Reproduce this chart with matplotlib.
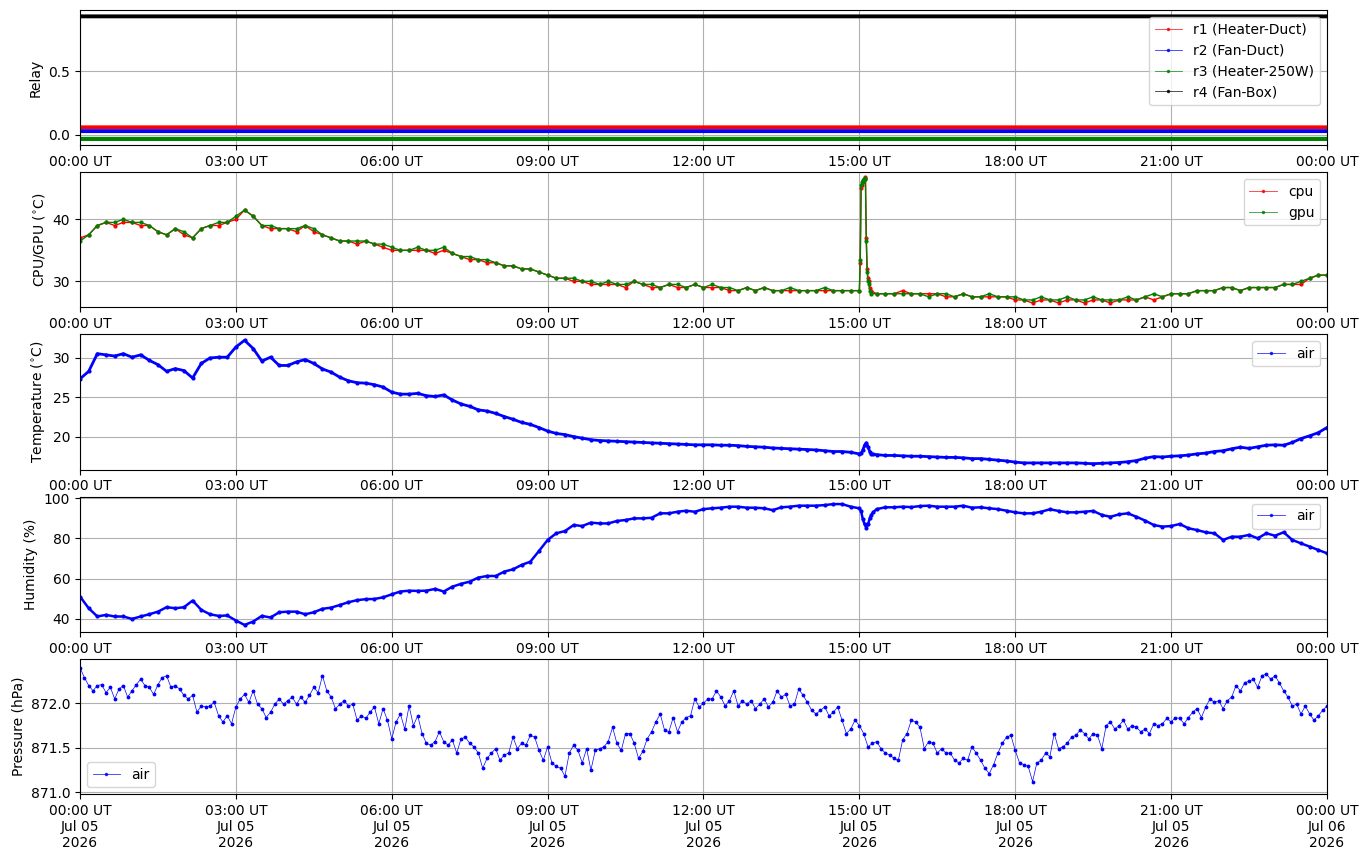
import numpy as np
import pandas as pd
import matplotlib
matplotlib.use('Agg')
import matplotlib.pyplot as plt
import matplotlib.dates as mdates

# --- time base ---
day_start = pd.Timestamp('2026-07-05 00:00')
day_end = pd.Timestamp('2026-07-06 00:00')
t1 = pd.date_range(day_start, day_end, freq='1min')
t5 = pd.date_range(day_start, day_end, freq='5min')
t10 = pd.date_range(day_start, day_end, freq='10min')

# --- relay states (0 = off, 1 = on) and display offsets ---
relay_names = ['r1 (Heater-Duct)', 'r2 (Fan-Duct)', 'r3 (Heater-250W)', 'r4 (Fan-Box)']
relay_state = [0, 0, 0, 1]
relay_offset = [0.06, 0.03, -0.03, -0.07]
relay_colors = ['red', 'blue', 'green', 'black']

# --- cpu / gpu temperature, every 10 minutes ---
cpu = [37.0, 37.5, 39.0, 39.5, 39.0, 39.5, 39.5, 39.0, 39.0, 38.0,
       37.5, 38.5, 37.5, 37.0, 38.5, 39.0, 39.0, 39.5, 40.0, 41.5,
       40.5, 39.0, 38.5, 38.5, 38.5, 38.0, 39.0, 38.0, 37.5, 37.0,
       36.5, 36.5, 36.0, 36.5, 36.0, 35.5, 35.0, 35.0, 35.0, 35.0,
       35.0, 34.5, 35.0, 34.5, 34.0, 33.5, 33.5, 33.0, 33.0, 32.5,
       32.5, 32.0, 32.0, 31.5, 31.0, 30.5, 30.5, 30.0, 30.0, 29.5,
       29.5, 29.5, 29.5, 29.0, 30.0, 29.5, 29.0, 29.0, 29.5, 29.0,
       29.0, 29.5, 29.0, 29.0, 29.0, 28.5, 28.5, 29.0, 28.5, 29.0,
       28.5, 28.5, 28.5, 28.5, 28.5, 28.5, 28.5, 28.5, 28.5, 28.5,
       28.5, 30.5, 28.0, 28.0, 28.0, 28.5, 28.0, 28.0, 28.0, 28.0,
       27.5, 27.5, 28.0, 27.5, 27.5, 27.5, 27.5, 27.5, 27.0, 27.0,
       26.5, 27.0, 27.0, 26.5, 27.0, 27.0, 26.5, 27.0, 27.0, 26.5,
       27.0, 27.0, 27.0, 27.5, 27.0, 27.5, 28.0, 28.0, 28.0, 28.5,
       28.5, 28.5, 29.0, 29.0, 28.5, 29.0, 29.0, 29.0, 29.0, 29.5,
       29.5, 29.5, 30.5, 31.0, 31.0]
gpu = [36.5, 37.5, 39.0, 39.5, 39.5, 40.0, 39.5, 39.5, 39.0, 38.0,
       37.5, 38.5, 38.0, 37.0, 38.5, 39.0, 39.5, 39.5, 40.5, 41.5,
       40.5, 39.0, 39.0, 38.5, 38.5, 38.5, 39.0, 38.5, 37.5, 37.0,
       36.5, 36.5, 36.5, 36.5, 36.0, 36.0, 35.5, 35.0, 35.0, 35.5,
       35.0, 35.0, 35.5, 34.5, 34.0, 34.0, 33.5, 33.5, 33.0, 32.5,
       32.5, 32.0, 32.0, 31.5, 31.0, 30.5, 30.5, 30.5, 30.0, 30.0,
       29.5, 30.0, 29.5, 29.5, 30.0, 29.5, 29.5, 29.0, 29.5, 29.5,
       29.0, 29.5, 29.0, 29.5, 29.0, 29.0, 28.5, 29.0, 28.5, 29.0,
       28.5, 28.5, 29.0, 28.5, 28.5, 28.5, 29.0, 28.5, 28.5, 28.5,
       28.5, 30.0, 28.0, 28.0, 28.0, 28.0, 28.0, 28.0, 27.5, 28.0,
       28.0, 27.5, 28.0, 27.5, 27.5, 28.0, 27.5, 27.5, 27.5, 27.0,
       27.0, 27.5, 27.0, 27.0, 27.5, 27.0, 27.0, 27.5, 27.0, 27.0,
       27.0, 27.5, 27.0, 27.5, 28.0, 27.5, 28.0, 28.0, 28.0, 28.5,
       28.5, 28.5, 29.0, 29.0, 28.5, 29.0, 29.0, 29.0, 29.0, 29.5,
       29.5, 30.0, 30.5, 31.0, 31.0]

# short heating event around 15:00 UT, sampled every minute
cpu_event_times = ['15:01', '15:02', '15:03', '15:04', '15:05', '15:06', '15:07',
                   '15:08', '15:09', '15:10', '15:11', '15:12', '15:13']
cpu_event = [33.0, 45.0, 45.5, 46.0, 46.3, 46.5, 46.8, 37.0, 32.0, 30.5, 30.0, 29.0, 28.5]
gpu_event = [33.5, 45.5, 46.0, 46.3, 46.5, 46.7, 46.5, 36.5, 31.5, 30.0, 29.5, 28.5, 28.0]

# --- air temperature, every 10 minutes ---
air_temp = [27.35, 28.3, 30.55, 30.4, 30.25, 30.55, 30.1, 30.4, 29.7, 29.15,
            28.3, 28.65, 28.4, 27.45, 29.3, 30.0, 30.1, 30.1, 31.4, 32.25,
            31.2, 29.6, 30.1, 29.05, 29.05, 29.5, 29.8, 29.3, 28.6, 28.2,
            27.55, 27.1, 26.85, 26.8, 26.6, 26.3, 25.65, 25.4, 25.4, 25.5,
            25.2, 25.1, 25.3, 24.65, 24.15, 23.85, 23.4, 23.25, 22.95, 22.55,
            22.2, 21.8, 21.55, 21.15, 20.7, 20.4, 20.25, 20.0, 19.8, 19.6,
            19.5, 19.45, 19.4, 19.35, 19.3, 19.25, 19.2, 19.15, 19.1, 19.05,
            19.0, 18.95, 18.95, 18.95, 18.9, 18.9, 18.85, 18.75, 18.7, 18.65,
            18.55, 18.5, 18.45, 18.4, 18.35, 18.3, 18.2, 18.1, 18.1, 18.0,
            17.8, 18.6, 17.7, 17.6, 17.6, 17.55, 17.5, 17.5, 17.45, 17.4,
            17.35, 17.35, 17.3, 17.2, 17.2, 17.1, 17.0, 16.9, 16.75, 16.65,
            16.65, 16.65, 16.65, 16.65, 16.65, 16.65, 16.6, 16.55, 16.6, 16.65,
            16.7, 16.8, 16.95, 17.25, 17.45, 17.4, 17.5, 17.55, 17.65, 17.8,
            17.9, 18.1, 18.2, 18.45, 18.65, 18.5, 18.7, 18.9, 18.95, 18.9,
            19.25, 19.75, 20.1, 20.5, 21.15]
air_event_times = ['15:02', '15:04', '15:06', '15:08', '15:10', '15:12', '15:14', '15:16']
air_temp_event = [17.85, 18.3, 18.9, 19.2, 18.7, 18.1, 17.8, 17.75]

# --- humidity, every 10 minutes ---
humidity = [51.1, 45.3, 41.2, 42.0, 41.2, 41.2, 40.0, 41.2, 42.3, 43.6,
            45.8, 45.3, 45.8, 49.1, 44.5, 42.3, 41.5, 41.7, 39.2, 37.0,
            38.7, 41.5, 40.7, 43.3, 43.6, 43.6, 42.3, 43.3, 45.0, 45.6,
            46.9, 48.3, 49.3, 49.8, 49.9, 50.7, 52.2, 53.6, 54.0, 53.9,
            54.0, 54.9, 53.6, 56.0, 57.4, 58.5, 60.5, 61.3, 61.3, 63.5,
            64.6, 66.8, 68.4, 73.7, 79.2, 82.5, 83.6, 86.6, 86.1, 87.8,
            87.4, 87.4, 88.6, 89.1, 89.9, 89.9, 90.2, 92.4, 92.4, 93.2,
            93.7, 93.2, 94.5, 94.9, 95.2, 95.7, 95.7, 95.2, 95.2, 94.9,
            94.0, 95.4, 95.7, 96.2, 96.2, 96.2, 96.5, 97.0, 97.0, 95.7,
            94.9, 87.0, 94.5, 95.4, 95.4, 95.7, 95.5, 96.0, 96.2, 95.7,
            95.7, 95.7, 96.2, 95.2, 95.4, 94.9, 94.5, 93.7, 92.9, 92.4,
            92.4, 93.2, 94.4, 93.6, 92.9, 92.9, 93.2, 93.6, 91.6, 90.7,
            91.9, 92.4, 90.7, 88.8, 86.6, 85.8, 86.1, 87.1, 85.0, 84.1,
            83.0, 82.5, 79.2, 80.8, 80.8, 81.7, 80.0, 82.5, 81.3, 83.0,
            79.2, 77.5, 75.9, 74.2, 72.6]
humidity_event = [93.5, 89.5, 87.0, 85.3, 87.0, 89.9, 91.8, 93.0]

# --- pressure, every 5 minutes ---
pressure = [872.40, 872.29, 872.20, 872.14, 872.20, 872.21, 872.12, 872.18, 872.05, 872.16, 872.20, 872.07,
            872.14, 872.21, 872.27, 872.20, 872.18, 872.10, 872.21, 872.29, 872.31, 872.18, 872.20, 872.16,
            872.09, 872.05, 872.09, 871.90, 871.97, 871.96, 871.97, 872.01, 871.86, 871.79, 871.86, 871.77,
            871.96, 872.05, 872.10, 872.01, 872.14, 871.99, 871.94, 871.84, 871.90, 871.99, 872.05, 871.99,
            872.03, 872.07, 871.99, 872.07, 872.01, 872.09, 872.18, 872.12, 872.31, 872.14, 872.07, 871.94,
            871.99, 872.03, 871.97, 871.99, 871.81, 871.86, 871.83, 871.90, 871.96, 871.77, 871.94, 871.81,
            871.60, 871.79, 871.88, 871.71, 871.97, 871.75, 871.86, 871.66, 871.55, 871.53, 871.57, 871.68,
            871.57, 871.53, 871.59, 871.44, 871.60, 871.62, 871.55, 871.51, 871.44, 871.27, 871.38, 871.44,
            871.49, 871.36, 871.42, 871.44, 871.62, 871.49, 871.55, 871.53, 871.64, 871.62, 871.47, 871.36,
            871.51, 871.33, 871.29, 871.27, 871.18, 871.44, 871.53, 871.47, 871.33, 871.49, 871.25, 871.47,
            871.49, 871.51, 871.57, 871.73, 871.55, 871.47, 871.66, 871.66, 871.55, 871.38, 871.46, 871.60,
            871.68, 871.79, 871.88, 871.70, 871.68, 871.84, 871.68, 871.79, 871.84, 871.86, 872.05, 871.96,
            872.00, 872.05, 872.05, 872.14, 872.07, 871.97, 872.03, 872.14, 871.97, 872.03, 871.99, 872.03,
            871.94, 871.99, 872.05, 871.96, 872.01, 872.14, 872.07, 872.10, 871.97, 871.99, 872.16, 872.09,
            872.01, 871.92, 871.88, 871.92, 871.96, 871.86, 871.90, 871.96, 871.81, 871.66, 871.71, 871.81,
            871.75, 871.66, 871.51, 871.55, 871.57, 871.49, 871.44, 871.42, 871.38, 871.36, 871.59, 871.66,
            871.81, 871.79, 871.73, 871.49, 871.57, 871.55, 871.44, 871.49, 871.44, 871.44, 871.36, 871.33,
            871.38, 871.36, 871.51, 871.44, 871.36, 871.27, 871.21, 871.31, 871.44, 871.55, 871.62, 871.64,
            871.47, 871.33, 871.31, 871.29, 871.12, 871.33, 871.36, 871.44, 871.40, 871.66, 871.49, 871.51,
            871.55, 871.62, 871.64, 871.70, 871.66, 871.60, 871.66, 871.64, 871.49, 871.75, 871.79, 871.71,
            871.75, 871.81, 871.71, 871.75, 871.73, 871.68, 871.71, 871.66, 871.77, 871.75, 871.77, 871.83,
            871.79, 871.84, 871.83, 871.77, 871.84, 871.90, 871.94, 871.84, 871.96, 872.05, 872.01, 872.03,
            871.94, 872.03, 872.07, 872.20, 872.14, 872.23, 872.25, 872.27, 872.18, 872.31, 872.33, 872.27,
            872.31, 872.23, 872.14, 872.07, 871.97, 871.99, 871.88, 871.97, 871.88, 871.81, 871.86, 871.92,
            871.97]


def with_event(base_times, base_vals, ev_times, ev_vals):
    """Merge the regular samples with the denser samples of the 15 UT event."""
    base = pd.Series(base_vals, index=base_times)
    ev_index = pd.to_datetime(['2026-07-05 ' + s for s in ev_times])
    ev = pd.Series(ev_vals, index=ev_index)
    return ev.combine_first(base)


cpu_s = with_event(t10, cpu, cpu_event_times, cpu_event)
gpu_s = with_event(t10, gpu, cpu_event_times, gpu_event)
air_s = with_event(t10, air_temp, air_event_times, air_temp_event)
hum_s = with_event(t10, humidity, air_event_times, humidity_event)
pres_s = pd.Series(pressure, index=t5)

# --- figure ---
fig, axes = plt.subplots(5, 1, figsize=(13.68, 8.61), dpi=100)
fig.subplots_adjust(left=0.0585, right=0.970, top=0.9884, bottom=0.0778, hspace=0.2)


def thin_legend(ax, **kw):
    leg = ax.legend(**kw)
    for h in leg.legend_handles:
        h.set_linewidth(0.6)
        h.set_markersize(3)
        h.set_alpha(0.8)
    return leg


# Relay panel
ax = axes[0]
for name, state, off, col in zip(relay_names, relay_state, relay_offset, relay_colors):
    ax.plot(t1, np.full(len(t1), state) + off, '.-', color=col, lw=2.8, ms=2, label=name)
ax.set_ylabel('Relay')
ax.set_ylim(-0.08, 0.98)
ax.set_yticks([0.0, 0.5])
thin_legend(ax, loc='upper right')

# CPU / GPU panel
ax = axes[1]
ax.plot(cpu_s.index, cpu_s.values, '.-', color='red', lw=1.0, ms=4, label='cpu')
ax.plot(gpu_s.index, gpu_s.values, '.-', color='green', lw=1.0, ms=4, label='gpu')
ax.set_ylabel(r'CPU/GPU ($^{\circ}$C)')
ax.set_ylim(25.8, 47.6)
ax.set_yticks([30, 40])
thin_legend(ax, loc='upper right')

# Air temperature panel
ax = axes[2]
ax.plot(air_s.index, air_s.values, '.-', color='blue', lw=2.0, ms=4, label='air')
ax.set_ylabel(r'Temperature ($^{\circ}$C)')
ax.set_ylim(15.8, 33.0)
ax.set_yticks([20, 25, 30])
thin_legend(ax, loc='upper right')

# Humidity panel
ax = axes[3]
ax.plot(hum_s.index, hum_s.values, '.-', color='blue', lw=1.8, ms=4, label='air')
ax.set_ylabel('Humidity (%)')
ax.set_ylim(33.6, 100.7)
ax.set_yticks([40, 60, 80, 100])
thin_legend(ax, loc='upper right')

# Pressure panel
ax = axes[4]
ax.plot(pres_s.index, pres_s.values, '.-', color='blue', lw=0.5, ms=3.5, label='air')
ax.set_ylabel('Pressure (hPa)')
ax.set_ylim(870.98, 872.50)
ax.set_yticks([871.0, 871.5, 872.0])
ax.yaxis.set_major_formatter(matplotlib.ticker.FormatStrFormatter('%.1f'))
thin_legend(ax, loc='lower left')

for i, ax in enumerate(axes):
    ax.set_xlim(day_start, day_end)
    ax.xaxis.set_major_locator(mdates.HourLocator(byhour=range(0, 24, 3)))
    if i < 4:
        ax.xaxis.set_major_formatter(mdates.DateFormatter('%H:%M UT'))
    else:
        ax.xaxis.set_major_formatter(mdates.DateFormatter('%H:%M UT\n%b %d\n%Y'))
    ax.grid(True)

fig.savefig('out.png', dpi=100)
print("saved out.png")
